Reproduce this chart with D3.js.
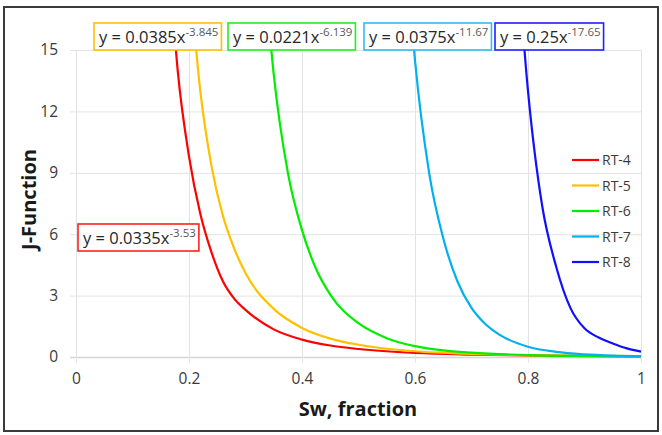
<!DOCTYPE html>
<html>
<head>
<meta charset="utf-8">
<script src="https://cdn.jsdelivr.net/npm/d3@7"></script>
<style>
  html, body { margin: 0; padding: 0; background: #fff; }
  svg { display: block; font-family: "Open Sans", "DejaVu Sans", sans-serif; }
</style>
</head>
<body>
<svg id="chart" width="662" height="435"></svg>
<script>
// ---- data ----
const seriesNames = ["RT-4", "RT-5", "RT-6", "RT-7", "RT-8"];
const seriesColors = ["#ff0000", "#ffc000", "#00ee00", "#00b0f0", "#1010ff"];

const swRT4 = [0.16, 0.18, 0.20, 0.22, 0.24, 0.26, 0.28, 0.30, 0.35, 0.40, 0.45, 0.50, 0.60, 0.70, 0.80, 0.90, 1.00];
const jRT4  = [21.5, 14.0, 9.8, 7.0, 5.1, 3.7, 2.85, 2.3, 1.35, 0.85, 0.56, 0.39, 0.20, 0.12, 0.075, 0.05, 0.034];

const swRT5 = [0.20, 0.22, 0.24, 0.26, 0.28, 0.30, 0.35, 0.40, 0.45, 0.50, 0.60, 0.70, 0.80, 0.90, 1.00];
const jRT5  = [19.0, 13.0, 9.3, 6.9, 5.3, 4.1, 2.35, 1.42, 0.90, 0.60, 0.28, 0.15, 0.09, 0.058, 0.04];

const swRT6 = [0.33, 0.35, 0.375, 0.40, 0.425, 0.45, 0.50, 0.55, 0.60, 0.65, 0.70, 0.80, 0.90, 1.00];
const jRT6  = [20.0, 13.8, 9.0, 6.2, 4.3, 3.05, 1.65, 0.92, 0.53, 0.32, 0.21, 0.09, 0.045, 0.024];

const swRT7 = [0.58, 0.60, 0.625, 0.65, 0.675, 0.70, 0.725, 0.75, 0.80, 0.85, 0.90, 0.95, 1.00];
const jRT7  = [21.5, 14.5, 9.0, 5.8, 3.7, 2.4, 1.6, 1.08, 0.50, 0.25, 0.13, 0.07, 0.04];

const swRT8 = [0.775, 0.80, 0.825, 0.85, 0.875, 0.90, 0.925, 0.95, 0.975, 1.00];
const jRT8  = [22.0, 13.0, 7.4, 4.4, 2.4, 1.4, 0.95, 0.66, 0.42, 0.26];

const eqCoef = ["0.0335", "0.0385", "0.0221", "0.0375", "0.25"];
const eqExp  = ["-3.53", "-3.845", "-6.139", "-11.67", "-17.65"];

const xTicks = [0, 0.2, 0.4, 0.6, 0.8, 1];
const yTicks = [0, 3, 6, 9, 12, 15];
const xTitle = "Sw, fraction";
const yTitle = "J-Function";

// ---- layout ----
const svg = d3.select("#chart");
const L = 76, R = 641, T = 50, B = 357;
const x = d3.scaleLinear().domain([0, 1]).range([L, R]);
const y = d3.scaleLinear().domain([0, 15]).range([B, T]);
const textColor = "#3a3a3a";
const gridColor = "#e3e3e3";

// outer frame
svg.append("rect").attr("x", 4).attr("y", 7).attr("width", 654).attr("height", 424)
  .attr("fill", "#fff").attr("stroke", "#3a3a3a").attr("stroke-width", 2);

// gridlines (with small outside tick extension)
svg.append("g").selectAll("line").data(yTicks).join("line")
  .attr("x1", L - 6).attr("x2", R)
  .attr("y1", d => y(d) + 0.5).attr("y2", d => y(d) + 0.5)
  .attr("stroke", d => d === 0 ? "#d6d6d6" : gridColor).attr("stroke-width", d => d === 0 ? 1.5 : 1);
svg.append("g").selectAll("line").data(xTicks).join("line")
  .attr("x1", d => x(d) + 0.5).attr("x2", d => x(d) + 0.5)
  .attr("y1", T).attr("y2", B + 6)
  .attr("stroke", gridColor).attr("stroke-width", 1);

// axes labels via d3 axes
const fmtX = d => d3.format("~g")(d);
const gx = svg.append("g").attr("transform", `translate(0,${B})`)
  .call(d3.axisBottom(x).tickValues(xTicks).tickFormat(fmtX).tickSize(0).tickPadding(16));
const gy = svg.append("g").attr("transform", `translate(${L},0)`)
  .call(d3.axisLeft(y).tickValues(yTicks).tickSize(0).tickPadding(18));
[gx, gy].forEach(g => {
  g.select(".domain").remove();
  g.selectAll("text").attr("fill", textColor).style("font-size", "15.5px")
    .style("font-family", "'Open Sans', sans-serif");
});

// titles
svg.append("text").attr("x", 358).attr("y", 416).attr("text-anchor", "middle")
  .attr("font-weight", "bold").attr("font-size", 20).attr("fill", "#1a1a1a").text(xTitle);
svg.append("text").attr("transform", `translate(36,${(T + B) / 2 - 4}) rotate(-90)`)
  .attr("text-anchor", "middle").attr("font-weight", "bold").attr("font-size", 20)
  .attr("fill", "#1a1a1a").text(yTitle);

// clip
svg.append("clipPath").attr("id", "plotClip").append("rect")
  .attr("x", L).attr("y", T).attr("width", R - L + 2).attr("height", B - T + 2);

const allSw = [swRT4, swRT5, swRT6, swRT7, swRT8];
const allJ = [jRT4, jRT5, jRT6, jRT7, jRT8];
const line = d3.line().x(d => x(d[0])).y(d => y(d[1])).curve(d3.curveMonotoneX);

const gLines = svg.append("g").attr("clip-path", "url(#plotClip)");
allSw.forEach((sw, i) => {
  const pts = sw.map((s, k) => [s, allJ[i][k]]);
  gLines.append("path").datum(pts).attr("d", line)
    .attr("fill", "none").attr("stroke", seriesColors[i]).attr("stroke-width", 2.2)
    .attr("stroke-linejoin", "round");
});

// legend
const lg = svg.append("g");
seriesNames.forEach((n, i) => {
  const cy = 160 + i * 25.5;
  lg.append("line").attr("x1", 572).attr("x2", 599).attr("y1", cy).attr("y2", cy)
    .attr("stroke", seriesColors[i]).attr("stroke-width", 2.2);
  lg.append("text").attr("x", 602).attr("y", cy + 5).attr("font-size", 14)
    .attr("fill", textColor).text(n);
});

// equation labels
const eqPos = [[78, 224], [94, 23], [228, 23], [364, 23], [495, 23]];
const boxColors = ["#ff2020", "#ffc000", "#22ee22", "#33bbf0", "#2020ff"];
eqCoef.forEach((c, i) => {
  const [bx, by] = eqPos[i];
  const g = svg.append("g");
  const rect = g.append("rect").attr("x", bx).attr("y", by).attr("height", 27)
    .attr("fill", "#fff").attr("stroke", boxColors[i]).attr("stroke-width", 1.6);
  const t = g.append("text").attr("x", bx + 5).attr("y", by + 20).attr("font-size", 16.5).attr("fill", "#262626");
  t.append("tspan").text(`y = ${c}x`);
  t.append("tspan").attr("dy", -7).attr("font-size", 11.5).attr("fill", "#595959").text(eqExp[i]);
  const w = t.node().getComputedTextLength();
  rect.attr("width", w + 8);
});
</script>
</body>
</html>
